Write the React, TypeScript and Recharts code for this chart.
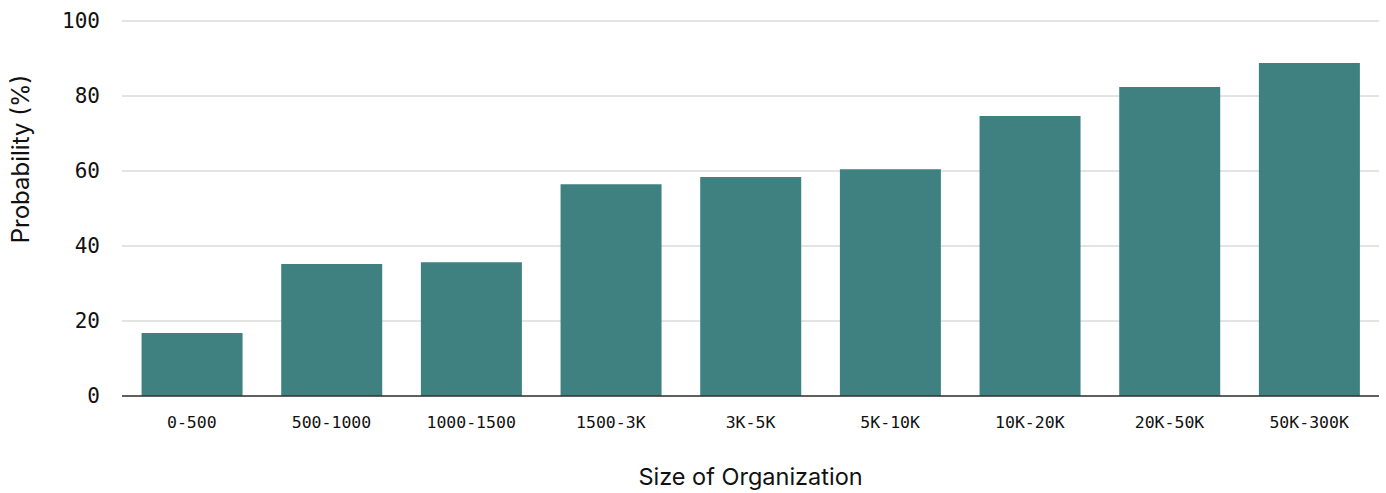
import React from 'react';
import { BarChart, Bar, XAxis, YAxis, CartesianGrid, Label } from 'recharts';

const sizes = [
  '0-500',
  '500-1000',
  '1000-1500',
  '1500-3K',
  '3K-5K',
  '5K-10K',
  '10K-20K',
  '20K-50K',
  '50K-300K',
];

const probability = [16.8, 35.2, 35.7, 56.5, 58.4, 60.5, 74.7, 82.4, 88.8];

const yTicks = [0, 20, 40, 60, 80, 100];

const data = sizes.map((name, i) => ({ name, value: probability[i] }));

const mono = '"DejaVu Sans Mono", "Liberation Mono", monospace';
const sans = 'Inter, "Noto Sans", sans-serif';

const App = () => {
  return (
    <div style={{ position: 'absolute', left: 0, top: 0 }}>
      <BarChart
        width={1386}
        height={493}
        data={data}
        margin={{ top: 21, right: 7, left: 42, bottom: 0 }}
        barCategoryGap="14%"
      >
        <CartesianGrid vertical={false} stroke="#c8c8c8" />
        <XAxis
          dataKey="name"
          height={97}
          tickLine={false}
          tickMargin={14}
          axisLine={{ stroke: '#333333', strokeWidth: 1.5 }}
          tick={{ fill: '#111111', fontSize: 16.5, fontFamily: mono }}
          interval={0}
        >
          <Label
            value="Size of Organization"
            position="insideBottom"
            offset={8}
            style={{ fontSize: 23.5, fontFamily: sans, fill: '#111111' }}
          />
        </XAxis>
        <YAxis
          domain={[0, 100]}
          ticks={yTicks}
          width={80}
          tickLine={false}
          axisLine={false}
          tickMargin={16}
          tick={{ fill: '#111111', fontSize: 21, fontFamily: mono }}
        >
          <Label
            content={(props: any) => {
              const vb = props.viewBox || {};
              const x = 20;
              const y = (vb.y ?? 21) + 138;
              return (
                <text
                  x={x}
                  y={y}
                  transform={`rotate(-90 ${x} ${y})`}
                  textAnchor="middle"
                  dominantBaseline="central"
                  style={{ fontSize: 24, fontFamily: sans, fill: '#111111' }}
                >
                  Probability (%)
                </text>
              );
            }}
          />
        </YAxis>
        <Bar dataKey="value" fill="#3e8180" isAnimationActive={false} />
      </BarChart>
    </div>
  );
};

export default App;
